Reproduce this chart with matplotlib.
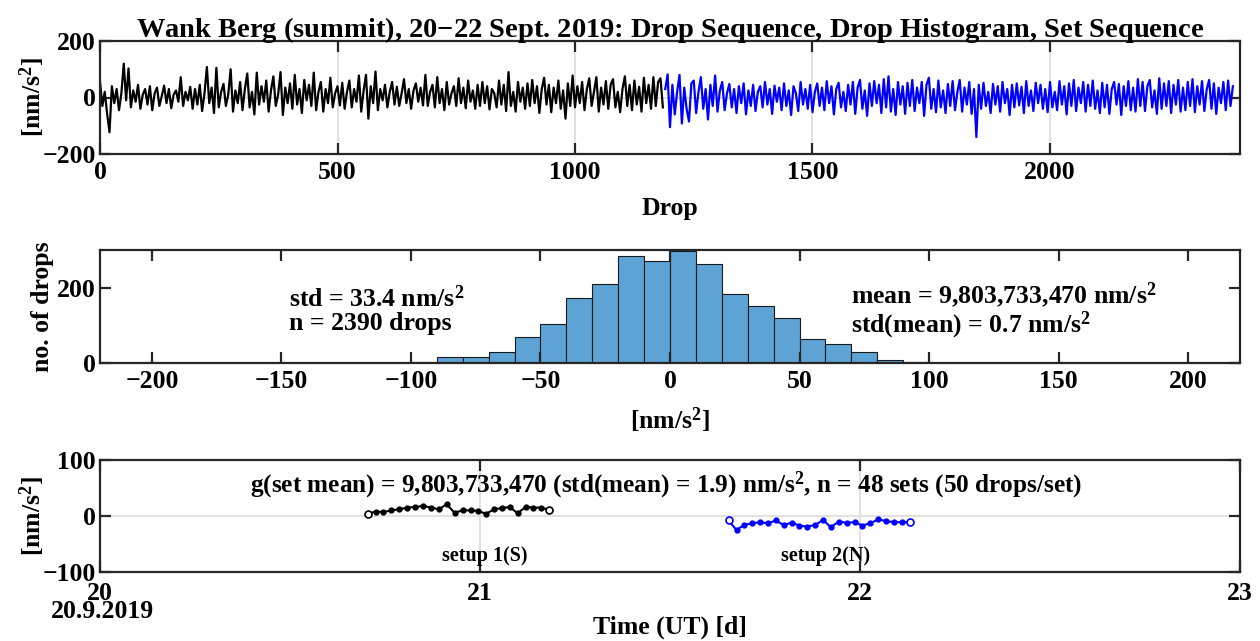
import numpy as np
import matplotlib
matplotlib.use('Agg')
import matplotlib.pyplot as plt

plt.rcParams['font.family'] = ['Liberation Serif', 'DejaVu Serif']
plt.rcParams['font.weight'] = 'bold'
plt.rcParams['axes.labelweight'] = 'bold'
plt.rcParams['mathtext.fontset'] = 'custom'
plt.rcParams['mathtext.rm'] = 'Liberation Serif:bold'
plt.rcParams['mathtext.bf'] = 'Liberation Serif:bold'
plt.rcParams['mathtext.it'] = 'Liberation Serif:bold'

# ---------------- data ----------------
# Drop sequence, read at every 5th drop (nm/s^2)
STEP = 5
black_start = 0
black_vals = [55, -30, 20, -58, -123, 40, -20, 30, -45, 15, 120, -10, 103, -35, 25, -15, 45, -40, 10, 30,
              -25, 40, -45, 15, 35, -30, 5, 42, -20, 30, -38, 10, 25, -15, 72, -30, 20, -10, 38, -40,
              30, -25, 45, -48, 15, 108, -20, 35, -55, 105, -35, 20, 48, -30, 10, 100, -50, 25, -20, 55,
              -45, 30, 85, -35, 20, -60, 88, -25, 40, -15, 60, -50, 25, 75, -30, 10, 90, -62, 35, -20,
              50, -40, 80, -25, 30, -55, 62, -10, 45, -30, 88, -45, 20, 55, -50, 30, -20, 70, -35, 15,
              40, -28, 52, -40, 20, 60, -35, 30, -15, 78, -50, 25, 80, -75, 40, -20, 92, -45, 30, -10,
              45, -35, 20, 55, -25, 38, -30, 15, 65, -20, 30, -40, 25, 50, -15, 35, -28, 80, -30, 20,
              45, -35, 72, -20, 30, -45, 55, -25, 15, 40, -30, 68, -20, 35, -38, 60, -15, 25, -40, 45,
              -30, 55, -20, 40, -42, 30, 15, -35, 60, -25, 45, -48, 90, -30, 20, -50, 55, -15, 35, -40,
              50, -30, 62, -20, 40, -55, 30, 70, -25, 45, -52, 35, -20, 60, -40, 25, -75, 50, -30, 78,
              -35, 40, -20, 55, -45, 30, 68, -30, 20, 72, -50, 35, -25, 58, -40, 45, 65, -35, 20, -52,
              30, 75, -30, 45, -45, 60, -25, 38, -50, 70, -20, 45, -40, 72, -30, 55, 68, -35]
blue_start = 1190
blue_vals = [30, 82, -105, 45, -60, 20, 80, -92, 35, -40, -85, 50, 60, -55, 20, 72, -40, 30, -78, 45,
             -30, 78, -50, 25, 55, -45, 15, 48, -35, 30, -55, 40, -20, 50, -60, 25, -30, 45, -48, 20,
             40, -35, 55, -25, 30, -58, 42, -15, 35, -45, 50, -30, 25, -62, 40, 15, -48, 55, -25, 30,
             -40, 45, -52, 20, 50, -30, 35, -45, 58, -20, 40, -60, 30, 52, -35, 20, -48, 45, -25, 55,
             -58, 35, 62, -40, 25, -65, 50, -30, 58, -20, 45, -55, 65, -35, 75, -50, 30, -62, 55, -25,
             40, -58, 52, -30, 62, -48, 35, -20, 55, -65, 45, 70, -40, 30, -52, 60, -35, 25, -55, 48,
             -30, 58, -45, 20, 62, -50, 35, -25, 55, -58, 30, -140, 45, -40, 52, -30, 20, -55, 48, -25,
             40, -50, 55, -20, 30, -62, 45, -35, 50, -28, 38, -55, 58, -30, 25, -48, 52, -20, 45, -40,
             30, -52, 55, -35, 20, -45, 58, -25, 40, -60, 50, -30, 62, -48, 35, -20, 55, -50, 45, -30,
             60, -40, 25, -55, 52, -35, 45, -58, 30, 55, -25, 48, -62, 40, -30, 58, -45, 35, -50, 65,
             -30, 55, -48, 40, 62, -35, 25, -58, 68, -40, 50, -30, 58, -55, 45, -25, 62, -50, 35, -45,
             55, -30, 65, -52, 40, -25, 58, -48, 30, 62, -40, 50, -58, 35, -20, 55, -45, 60, -30, 40]

# Histogram
hist_left = [-100, -90, -80, -70, -60, -50, -40, -30, -20, -10, 0,
             10, 20, 30, 40, 50, 60, 70, 80, 90, 100]
hist_counts = [2, 15, 15, 30, 69, 104, 172, 211, 285, 272, 298,
               263, 182, 152, 120, 63, 50, 28, 7, 2, 1]

# Set sequence
set1_t = [20.705, 20.726, 20.746, 20.767, 20.788, 20.809, 20.829, 20.850,
          20.871, 20.892, 20.912, 20.933, 20.954, 20.975, 20.995, 21.016,
          21.037, 21.057, 21.078, 21.099, 21.120, 21.140, 21.161, 21.182]
set1_g = [4, 8, 7, 10, 12, 15, 16, 18, 15, 12, 21, 6,
          10, 10, 9, 4, 12, 14, 16, 5, 16, 15, 15, 11]
set2_t = [21.654, 21.675, 21.695, 21.716, 21.737, 21.758, 21.778, 21.799,
          21.820, 21.840, 21.861, 21.882, 21.903, 21.923, 21.944, 21.965,
          21.986, 22.006, 22.027, 22.048, 22.068, 22.089, 22.110, 22.131]
set2_g = [-8, -25, -16, -13, -11, -13, -8, -16, -12, -17, -19, -16,
          -7, -20, -10, -12, -11, -17, -13, -6, -9, -11, -11, -11]

# ---------------- figure ----------------
EDGE = '#262626'
GRID = '#DCDCDC'
FS = 18.5
W, H = 1260, 641

fig = plt.figure(figsize=(12.6, 6.41), dpi=100)
L, R = 100 / W, 1240 / W
def box(top_px, bot_px):
    return [L, 1 - bot_px / H, R - L, (bot_px - top_px) / H]

def style(ax, xpad=5):
    for s in ax.spines.values():
        s.set_color(EDGE)
        s.set_linewidth(1.6)
    ax.tick_params(direction='in', length=8, width=1.6, color=EDGE,
                   top=True, right=True, labelsize=FS)
    ax.tick_params(axis='x', pad=xpad)
    ax.tick_params(axis='y', pad=3)
    for lab in ax.get_xticklabels() + ax.get_yticklabels():
        lab.set_fontweight('bold')

def place_labels(ax, top_px, bot_px, xlab_px, ylab_px):
    h = bot_px - top_px
    ax.xaxis.set_label_coords(0.5, (bot_px - xlab_px) / h)
    ax.xaxis.label.set_va('center')
    ax.yaxis.set_label_coords((ylab_px - 100) / 1140, 0.5)
    ax.yaxis.label.set_va('center')

# --- top: drop sequence
T1, B1 = 41, 154
ax1 = fig.add_axes(box(T1, B1))
ax1.plot(black_start + STEP * np.arange(len(black_vals)), black_vals, color='black', lw=1.6)
ax1.plot(blue_start + STEP * np.arange(len(blue_vals)), blue_vals, color='#0000FF', lw=1.6)
ax1.set_xlim(0, 2400)
ax1.set_ylim(-200, 200)
ax1.set_xticks([0, 500, 1000, 1500, 2000])
ax1.set_yticks([-200, 0, 200])
ax1.grid(True, color=GRID, lw=1.2)
ax1.set_axisbelow(True)
ax1.set_xlabel('Drop', fontsize=FS)
ax1.set_ylabel(r'[nm/s$^{2}$]', fontsize=FS)
place_labels(ax1, T1, B1, 208, 32)
ax1.set_title(r'Wank Berg (summit), 20$-$22 Sept. 2019: Drop Sequence, Drop Histogram, Set Sequence',
              fontsize=20.5, fontweight='bold', pad=3)
style(ax1)

# --- middle: histogram
T2, B2 = 250, 363
ax2 = fig.add_axes(box(T2, B2))
ax2.bar(hist_left, hist_counts, width=10, align='edge', color='#5DA3D6',
        edgecolor='#1a1a1a', linewidth=0.8)
ax2.set_xlim(-220, 220)
ax2.set_ylim(0, 300)
ax2.set_xticks([-200, -150, -100, -50, 0, 50, 100, 150, 200])
ax2.set_yticks([0, 200])
ax2.set_xlabel(r'[nm/s$^{2}$]', fontsize=FS)
ax2.set_ylabel('no. of drops', fontsize=FS)
place_labels(ax2, T2, B2, 420, 42)
ax2.text(-147, 140, 'std = 33.4 nm/s$^{2}$\nn = 2390 drops', fontsize=FS,
         fontweight='bold', va='center', ha='left', linespacing=1.0)
ax2.text(70, 140, 'mean = 9,803,733,470 nm/s$^{2}$\nstd(mean) = 0.7 nm/s$^{2}$',
         fontsize=FS, fontweight='bold', va='center', ha='left', linespacing=1.0)
style(ax2)

# --- bottom: set sequence
T3, B3 = 460, 572
ax3 = fig.add_axes(box(T3, B3))
ax3.plot(set1_t, set1_g, color='black', lw=1.5, marker='o', ms=3.5)
ax3.plot([set1_t[0], set1_t[-1]], [set1_g[0], set1_g[-1]], ls='none',
         marker='o', ms=5, mfc='white', mec='black', mew=1.2)
ax3.plot(set2_t, set2_g, color='#0000FF', lw=1.5, marker='o', ms=3.5)
ax3.plot([set2_t[0], set2_t[-1]], [set2_g[0], set2_g[-1]], ls='none',
         marker='o', ms=5, mfc='white', mec='#0000FF', mew=1.2)
ax3.set_xlim(20, 23)
ax3.set_ylim(-100, 100)
ax3.set_xticks([20, 21, 22, 23])
ax3.set_yticks([-100, 0, 100])
ax3.grid(True, color=GRID, lw=1.2)
ax3.set_axisbelow(True)
ax3.set_xlabel('Time (UT) [d]', fontsize=FS)
ax3.set_ylabel(r'[nm/s$^{2}$]', fontsize=FS)
place_labels(ax3, T3, B3, 627, 32)
ax3.text(21.49, 55, r'g(set mean) = 9,803,733,470 (std(mean) = 1.9) nm/s$^{2}$, n = 48 sets (50 drops/set)',
         fontsize=18.2, fontweight='bold', ha='center', va='center')
ax3.text(21.013, -72, 'setup 1(S)', fontsize=14.5, fontweight='bold', ha='center', va='center')
ax3.text(21.91, -72, 'setup 2(N)', fontsize=14.5, fontweight='bold', ha='center', va='center')
style(ax3, xpad=7)
fig.text(102 / W, 1 - 611 / H, '20.9.2019', fontsize=FS, fontweight='bold',
         ha='center', va='center')

fig.savefig('out.png', dpi=100)
